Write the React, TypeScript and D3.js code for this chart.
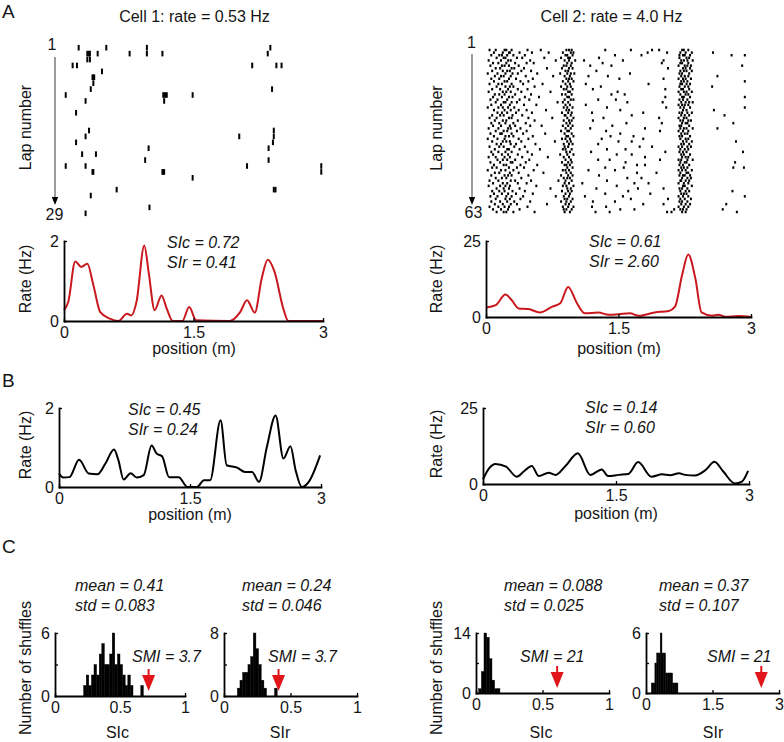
import React, { useEffect, useRef } from 'react';
import * as d3 from 'd3';

const FONT = '"Liberation Sans", Arial, Helvetica, sans-serif';
const RED = '#c9181e';
const ARROW_RED = '#e0161b';

// cell 1 raster, one list per lap, spike positions in cm along the track
const cell1Laps: number[][] = [
  [17, 49, 96, 239],
  [27, 29, 30, 39, 76, 96, 114, 236],
  [27, 30],
  [10, 15, 218, 246, 252],
  [44],
  [33, 34, 35],
  [34],
  [31, 241],
  [2, 115, 117, 119, 149],
  [25, 116],
  [],
  [14],
  [],
  [],
  [29, 243],
  [25, 203, 243],
  [14, 242],
  [98, 237],
  [21, 37],
  [94, 237],
  [2, 25, 212, 298],
  [33, 34, 114, 115, 116, 298],
  [149],
  [],
  [61, 243, 245],
  [31],
  [],
  [99],
  [25],
];

// cell 2 raster, one list per lap (63 laps), positions in cm
const cell2Laps: number[][] = [
  [4, 11, 21, 23, 29, 47, 62, 91, 94, 97, 135, 164, 188, 196, 222, 224, 229],
  [9, 19, 26, 27, 38, 52, 71, 87, 96, 99, 183, 205, 220, 226, 233, 257],
  [6, 15, 18, 24, 31, 44, 90, 92, 98, 146, 176, 219, 223, 225, 231, 278, 293],
  [12, 20, 22, 35, 41, 66, 85, 93, 95, 128, 219, 227, 230],
  [3, 17, 25, 28, 50, 79, 89, 94, 101, 111, 155, 201, 221, 224, 228, 234],
  [8, 14, 23, 33, 46, 54, 92, 97, 132, 199, 220, 222, 229],
  [5, 18, 21, 26, 37, 88, 91, 96, 118, 142, 218, 225, 228, 232, 290],
  [11, 16, 29, 32, 43, 69, 86, 94, 98, 206, 223, 226, 231],
  [7, 19, 24, 27, 40, 51, 90, 93, 125, 220, 224, 227, 233],
  [2, 13, 22, 30, 36, 58, 84, 92, 96, 100, 163, 219, 222, 230],
  [10, 17, 20, 28, 45, 76, 89, 95, 116, 138, 221, 225, 229, 262],
  [6, 15, 26, 34, 53, 91, 94, 97, 151, 201, 218, 223, 226, 232],
  [9, 21, 24, 39, 48, 87, 93, 99, 221, 224, 228, 293],
  [4, 14, 18, 29, 42, 64, 90, 95, 113, 184, 220, 222, 227, 231],
  [12, 22, 27, 31, 55, 85, 92, 96, 130, 219, 225, 229, 256],
  [7, 16, 25, 36, 47, 88, 91, 98, 121, 203, 221, 223, 230],
  [3, 19, 23, 28, 40, 73, 93, 95, 149, 218, 224, 227, 233],
  [10, 15, 21, 33, 51, 86, 90, 97, 142, 157, 220, 226, 229],
  [8, 18, 26, 30, 44, 60, 92, 94, 203, 222, 224, 231, 293],
  [5, 13, 24, 38, 49, 89, 96, 99, 127, 147, 219, 223, 228],
  [11, 20, 22, 29, 35, 81, 87, 93, 160, 200, 221, 226, 230, 234],
  [6, 17, 27, 43, 57, 90, 95, 113, 218, 222, 225, 229],
  [2, 14, 19, 25, 32, 88, 92, 98, 137, 204, 220, 224, 231, 293],
  [9, 21, 28, 37, 46, 68, 91, 94, 152, 223, 227, 258],
  [13, 18, 24, 34, 52, 86, 93, 97, 120, 178, 219, 222, 228, 233],
  [7, 16, 20, 30, 41, 89, 90, 96, 165, 221, 225, 230, 270],
  [4, 12, 26, 29, 48, 75, 92, 99, 133, 196, 218, 224, 227],
  [10, 19, 23, 36, 55, 88, 94, 97, 121, 220, 223, 229, 232],
  [6, 15, 22, 31, 45, 91, 95, 159, 199, 222, 226, 228, 280],
  [8, 17, 27, 33, 50, 63, 87, 93, 98, 143, 219, 221, 230],
  [3, 14, 25, 28, 39, 90, 96, 118, 180, 220, 224, 227, 234, 262],
  [11, 20, 24, 35, 46, 85, 92, 94, 136, 197, 218, 223, 229],
  [5, 16, 18, 29, 42, 67, 89, 97, 152, 221, 225, 228],
  [9, 22, 26, 31, 53, 91, 93, 99, 141, 167, 219, 222, 231],
  [2, 13, 21, 37, 48, 86, 90, 95, 131, 178, 220, 226, 229],
  [7, 19, 23, 27, 40, 78, 92, 96, 150, 165, 223, 227, 233, 283],
  [12, 17, 28, 34, 56, 88, 94, 98, 127, 221, 224, 230],
  [4, 15, 20, 32, 44, 89, 93, 174, 188, 218, 222, 228, 232],
  [10, 24, 26, 38, 61, 87, 90, 97, 137, 158, 220, 225, 229],
  [6, 14, 22, 29, 47, 91, 95, 119, 203, 219, 223, 227, 291],
  [8, 18, 25, 36, 52, 84, 92, 99, 148, 165, 221, 224, 231],
  [3, 11, 21, 27, 41, 70, 88, 94, 180, 222, 226, 229],
  [13, 19, 24, 33, 49, 90, 96, 127, 140, 197, 218, 221, 228, 234],
  [5, 16, 28, 30, 45, 86, 93, 97, 158, 220, 225, 227, 282],
  [9, 20, 23, 39, 58, 89, 91, 95, 171, 180, 219, 223, 230],
  [7, 12, 26, 35, 43, 92, 98, 135, 156, 221, 224, 228, 280, 292],
  [2, 17, 22, 31, 54, 87, 90, 94, 116, 146, 218, 222, 226, 233],
  [10, 15, 27, 37, 65, 91, 96, 171, 193, 220, 227, 229],
  [6, 21, 25, 29, 48, 85, 93, 98, 128, 219, 223, 225, 231],
  [11, 18, 23, 40, 88, 92, 95, 160, 176, 222, 228, 232],
  [4, 14, 28, 33, 51, 82, 90, 97, 137, 220, 221, 226, 230],
  [8, 19, 24, 36, 46, 89, 94, 109, 168, 184, 218, 224, 229],
  [3, 16, 22, 27, 57, 87, 91, 99, 148, 223, 225, 233],
  [12, 20, 26, 38, 73, 92, 96, 125, 172, 201, 219, 222, 228],
  [7, 15, 21, 30, 44, 86, 93, 97, 161, 220, 226, 230, 279],
  [9, 18, 25, 34, 53, 90, 95, 135, 186, 221, 224, 227],
  [5, 13, 23, 29, 42, 79, 88, 94, 112, 155, 218, 223, 229, 293],
  [11, 22, 27, 39, 89, 92, 98, 164, 206, 220, 225, 232],
  [6, 16, 24, 32, 50, 85, 91, 96, 121, 146, 219, 222, 228],
  [10, 19, 28, 35, 69, 90, 94, 178, 201, 221, 226, 231, 272],
  [4, 14, 21, 26, 47, 87, 93, 99, 120, 136, 218, 224, 229],
  [8, 17, 25, 38, 88, 91, 97, 152, 168, 213, 220, 223, 227, 268],
  [12, 20, 23, 31, 55, 89, 95, 124, 140, 205, 210, 222, 226, 284],
];

// rate maps (position in m, rate in Hz)
const cell1Pos = [0, 0.05, 0.13, 0.2, 0.27, 0.34, 0.42, 0.53, 0.63, 0.73, 0.78, 0.84, 0.93, 0.98, 1.05, 1.13, 1.19, 1.26, 1.37, 1.45, 1.53, 1.92, 2.04, 2.12, 2.21, 2.29, 2.36, 2.44, 2.54, 2.6, 3.0];
const cell1Rate = [0.27, 0.48, 1.49, 1.35, 1.43, 0.9, 0.22, 0.06, 0, 0.18, 0.14, 0.48, 1.89, 1.23, 0.27, 0.64, 0.31, 0, 0, 0.35, 0.02, 0, 0.22, 0.52, 0.21, 1.06, 1.53, 1.22, 0.31, 0, 0];

const cell2Pos = [0, 0.11, 0.22, 0.29, 0.37, 0.48, 0.61, 0.75, 0.84, 0.93, 1.03, 1.12, 1.27, 1.39, 1.5, 1.63, 1.73, 1.91, 2.07, 2.14, 2.22, 2.29, 2.37, 2.44, 2.56, 2.63, 2.71, 2.86, 3];
const cell2Rate = [3.1, 3.9, 7.4, 5.6, 2.8, 2.6, 1.5, 3.4, 4.5, 9.9, 4.5, 1.2, 1.5, 0.7, 0.9, 1.2, 0.4, 1.5, 2.0, 3.4, 13.8, 20.6, 12.7, 1.5, 0.4, 0.7, 0.1, 0.3, 0];

// shuffled rate maps (B)
const shuf1Pos = [0, 0.05, 0.12, 0.23, 0.34, 0.44, 0.53, 0.63, 0.68, 0.74, 0.82, 0.89, 0.97, 1.06, 1.12, 1.18, 1.26, 1.37, 1.47, 1.58, 1.66, 1.73, 1.85, 1.92, 2.04, 2.13, 2.21, 2.29, 2.38, 2.48, 2.57, 2.65, 2.71, 2.78, 2.86, 2.99];
const shuf1Rate = [0.34, 0.24, 0.25, 0.69, 0.34, 0.32, 0.59, 0.95, 0.68, 0.19, 0.35, 0.24, 0.3, 1.05, 0.84, 0.78, 0.25, 0.25, 0, 0, 0.17, 0.17, 1.69, 0.55, 0.49, 0.38, 0.38, 0.13, 1.01, 1.81, 0.72, 1.03, 0.42, 0, 0.13, 0.8];

const shuf2Pos = [0, 0.07, 0.14, 0.26, 0.38, 0.46, 0.55, 0.63, 0.74, 0.82, 0.93, 1.07, 1.21, 1.34, 1.41, 1.53, 1.64, 1.75, 1.9, 2.02, 2.11, 2.21, 2.28, 2.39, 2.51, 2.61, 2.71, 2.84, 2.92, 2.99];
const shuf2Rate = [1.5, 5.2, 6.6, 5.7, 2.4, 4.1, 5.9, 2.6, 3.7, 3.0, 5.9, 10.1, 3.0, 4.8, 2.6, 3.0, 3.3, 7.2, 2.4, 3.2, 2.9, 3.5, 3.0, 2.8, 4.6, 7.3, 4.1, 0.2, 0.8, 4.3];

// shuffle histograms (C): first bin edge, bin width, counts
const histSIc1 = { start: 0.22, width: 0.02, counts: [1, 2, 1, 2, 3, 2, 4, 5, 3, 3, 4, 6, 3, 4, 3, 2, 1, 2, 1, 0, 0, 0, 1] };
const histSIr1 = { start: 0.1, width: 0.02, counts: [1, 2, 3, 3, 4, 5, 8, 6, 4, 2, 1, 0, 0, 0, 1] };
const histSIc2 = { start: 0.02, width: 0.02, counts: [1, 5, 14, 13, 8, 3, 1, 1] };
const histSIr2 = { start: 0.12, width: 0.04, counts: [1, 1, 3, 4, 4, 6, 4, 4, 2, 2, 2, 2, 1, 1, 1] };

type Sel = d3.Selection<SVGSVGElement, unknown, null, undefined>;

function addText(svg: Sel, x: number, y: number, s: string, o: { size?: number; anchor?: string; italic?: boolean; rotate?: boolean } = {}) {
  const t = svg.append('text').attr('x', x).attr('y', y).text(s)
    .attr('font-size', o.size ?? 16).attr('text-anchor', o.anchor ?? 'start').attr('fill', '#151515');
  if (o.italic) t.attr('font-style', 'italic');
  if (o.rotate) t.attr('transform', `rotate(-90 ${x} ${y})`).attr('dy', '0.35em');
  return t;
}

function drawAxes(svg: Sel, x: d3.ScaleLinear<number, number>, y: d3.ScaleLinear<number, number>, xTicks: number[], yTicks: number[], yShown: number[]) {
  const gx = svg.append('g').attr('transform', `translate(0,${y.range()[0]})`)
    .call(d3.axisBottom(x).tickValues(xTicks).tickSizeInner(-3).tickSizeOuter(0).tickPadding(6).tickFormat((d) => String(d)));
  const gy = svg.append('g').attr('transform', `translate(${x.range()[0]},0)`)
    .call(d3.axisLeft(y).tickValues(yTicks).tickSizeInner(-3).tickSizeOuter(0).tickPadding(5)
      .tickFormat((d) => (yShown.includes(+d) ? String(d) : '')));
  [gx, gy].forEach((g) => {
    g.attr('font-size', 16).attr('font-family', FONT);
    g.select('.domain').attr('stroke', '#000').attr('stroke-width', 1.8).attr('stroke-linecap', 'square');
    g.selectAll('.tick line').attr('stroke-width', 1.3);
    g.selectAll('.tick text').attr('fill', '#151515');
  });
}

function raster(svg: Sel, laps: number[][], xr: [number, number], yr: [number, number], h: number) {
  const x = d3.scaleLinear().domain([0, 3]).range(xr);
  const y = d3.scaleLinear().domain([1, laps.length]).range(yr);
  const spikes = laps.flatMap((l, i) => l.map((p) => ({ lap: i + 1, pos: p / 100 })));
  svg.append('g').selectAll('rect').data(spikes).join('rect')
    .attr('x', (d) => x(d.pos) - 1).attr('y', (d) => y(d.lap) - h / 2)
    .attr('width', 2).attr('height', h).attr('fill', '#000');
}

function lapArrow(svg: Sel, x: number, top: number, tip: number) {
  svg.append('line').attr('x1', x).attr('x2', x).attr('y1', top).attr('y2', tip - 6)
    .attr('stroke', '#666').attr('stroke-width', 1.3);
  svg.append('path').attr('d', d3.line()([[x - 3.2, tip - 8], [x + 3.2, tip - 8], [x, tip]]) + 'Z').attr('fill', '#000');
}

function ratePanel(svg: Sel, xr: [number, number], yr: [number, number], ymax: number, pos: number[], rate: number[], color: string) {
  const x = d3.scaleLinear().domain([0, 3]).range(xr);
  const y = d3.scaleLinear().domain([0, ymax]).range(yr);
  const line = d3.line<number>().x((_, i) => x(pos[i])).y((d) => y(d)).curve(d3.curveMonotoneX);
  svg.append('path').attr('d', line(rate)).attr('fill', 'none').attr('stroke', color)
    .attr('stroke-width', 2).attr('stroke-linejoin', 'round');
  drawAxes(svg, x, y, [0, 1.5, 3], [0, ymax], [0, ymax]);
}

function histPanel(svg: Sel, xr: [number, number], yr: [number, number], xmax: number, ymax: number,
  hist: { start: number; width: number; counts: number[] }, arrowAt: number) {
  const x = d3.scaleLinear().domain([0, xmax]).range(xr);
  const y = d3.scaleLinear().domain([0, ymax]).range(yr);
  svg.append('g').selectAll('rect').data(hist.counts).join('rect')
    .attr('x', (_, i) => x(hist.start + i * hist.width))
    .attr('width', x(hist.width) - x(0))
    .attr('y', (d) => y(d)).attr('height', (d) => y(0) - y(d))
    .attr('fill', '#000').attr('stroke', '#000').attr('stroke-width', 0.4);
  const ax = x(arrowAt);
  const base = y(0);
  svg.append('line').attr('x1', ax).attr('x2', ax).attr('y1', base - 27).attr('y2', base - 19)
    .attr('stroke', ARROW_RED).attr('stroke-width', 2);
  svg.append('path').attr('d', d3.line()([[ax - 6.5, base - 21], [ax + 6.5, base - 21], [ax, base - 5]]) + 'Z')
    .attr('fill', ARROW_RED);
  const xt = xmax === 1 ? [0, 0.5, 1] : [0, 1.5, 3];
  drawAxes(svg, x, y, xt, [0, ymax / 2, ymax], [0, ymax]);
}

export default function App() {
  const ref = useRef<SVGSVGElement>(null);

  useEffect(() => {
    const svg = d3.select(ref.current) as unknown as Sel;
    svg.selectAll('*').remove();
    svg.attr('font-family', FONT);

    // panel letters
    addText(svg, 2, 18, 'A', { size: 19 });
    addText(svg, 2, 387, 'B', { size: 19 });
    addText(svg, 2, 553, 'C', { size: 19 });

    // A: rasters
    addText(svg, 194.5, 22, 'Cell 1: rate = 0.53 Hz', { anchor: 'middle' });
    addText(svg, 611.5, 22, 'Cell 2: rate = 4.0 Hz', { anchor: 'middle' });
    raster(svg, cell1Laps, [64, 323], [47.7, 213.3], 5.6);
    raster(svg, cell2Laps, [486, 751], [50, 212], 2.5);
    lapArrow(svg, 55, 57, 205);
    lapArrow(svg, 472, 54, 205);
    addText(svg, 52, 50, '1', { anchor: 'middle' });
    addText(svg, 54.5, 220, '29', { anchor: 'middle' });
    addText(svg, 471.5, 48, '1', { anchor: 'middle' });
    addText(svg, 473.5, 218, '63', { anchor: 'middle' });
    addText(svg, 25.5, 127.5, 'Lap number', { anchor: 'middle', rotate: true });
    addText(svg, 436, 128, 'Lap number', { anchor: 'middle', rotate: true });

    // A: rate maps
    ratePanel(svg, [64, 323], [321, 241], 2, cell1Pos, cell1Rate, RED);
    ratePanel(svg, [486, 751], [317, 241], 25, cell2Pos, cell2Rate, RED);
    addText(svg, 25.5, 279, 'Rate (Hz)', { anchor: 'middle', rotate: true });
    addText(svg, 436, 279, 'Rate (Hz)', { anchor: 'middle', rotate: true });
    addText(svg, 194, 354, 'position (m)', { anchor: 'middle' });
    addText(svg, 619, 354, 'position (m)', { anchor: 'middle' });
    addText(svg, 167, 248, 'SIc = 0.72', { italic: true });
    addText(svg, 167, 268, 'SIr = 0.41', { italic: true });
    addText(svg, 589, 247, 'SIc = 0.61', { italic: true });
    addText(svg, 589, 267, 'SIr = 2.60', { italic: true });

    // B: shuffled rate maps
    ratePanel(svg, [59, 321], [487, 408], 2, shuf1Pos, shuf1Rate, '#000');
    ratePanel(svg, [483, 749], [484, 408], 25, shuf2Pos, shuf2Rate, '#000');
    addText(svg, 25.5, 445, 'Rate (Hz)', { anchor: 'middle', rotate: true });
    addText(svg, 436, 444, 'Rate (Hz)', { anchor: 'middle', rotate: true });
    addText(svg, 190, 520, 'position (m)', { anchor: 'middle' });
    addText(svg, 616, 519, 'position (m)', { anchor: 'middle' });
    addText(svg, 128, 415, 'SIc = 0.45', { italic: true });
    addText(svg, 128, 435, 'SIr = 0.24', { italic: true });
    addText(svg, 585, 413, 'SIc = 0.14', { italic: true });
    addText(svg, 585, 433, 'SIr = 0.60', { italic: true });

    // C: shuffle distributions
    histPanel(svg, [55, 185], [696, 633], 1, 6, histSIc1, 0.72);
    histPanel(svg, [224, 357], [696, 633], 1, 8, histSIr1, 0.41);
    histPanel(svg, [476, 609], [693, 633], 1, 14, histSIc2, 0.61);
    histPanel(svg, [646, 779], [693, 633], 3, 6, histSIr2, 2.6);
    addText(svg, 25.5, 668, 'Number of shuffles', { anchor: 'middle', rotate: true });
    addText(svg, 436, 668, 'Number of shuffles', { anchor: 'middle', rotate: true });
    addText(svg, 75, 591, 'mean = 0.41', { italic: true });
    addText(svg, 75, 611, 'std = 0.083', { italic: true });
    addText(svg, 242, 591, 'mean = 0.24', { italic: true });
    addText(svg, 242, 611, 'std = 0.046', { italic: true });
    addText(svg, 504, 591, 'mean = 0.088', { italic: true });
    addText(svg, 504, 611, 'std = 0.025', { italic: true });
    addText(svg, 659, 591, 'mean = 0.37', { italic: true });
    addText(svg, 659, 611, 'std = 0.107', { italic: true });
    addText(svg, 132, 662, 'SMI = 3.7', { italic: true });
    addText(svg, 268, 662, 'SMI = 3.7', { italic: true });
    addText(svg, 520, 662, 'SMI = 21', { italic: true });
    addText(svg, 707, 662, 'SMI = 21', { italic: true });
    addText(svg, 117.5, 738, 'SIc', { anchor: 'middle' });
    addText(svg, 280, 738, 'SIr', { anchor: 'middle' });
    addText(svg, 541, 738, 'SIc', { anchor: 'middle' });
    addText(svg, 713, 738, 'SIr', { anchor: 'middle' });
  }, []);

  return (
    <svg ref={ref} width={784} height={742}
      style={{ position: 'absolute', left: 0, top: 0, display: 'block', background: '#fff' }} />
  );
}
